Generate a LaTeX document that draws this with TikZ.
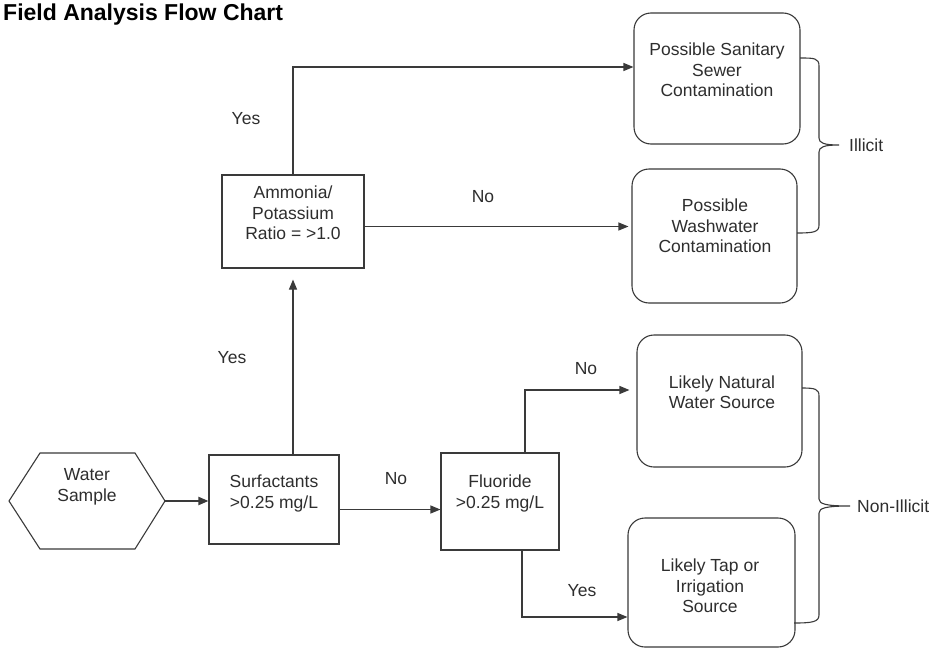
\documentclass[tikz,border=0pt]{standalone}
\usepackage{fontspec}
\setmainfont{Liberation Sans}
\usetikzlibrary{arrows.meta}
\definecolor{ln}{HTML}{3A3A3A}
\begin{document}
\begin{tikzpicture}[x=1pt,y=-1pt,
  flowbox/.style={draw=ln, line width=1.1pt, inner sep=0pt},
  endbox/.style={flowbox, rounded corners=17pt},
  txt/.style={align=center, inner sep=0pt, font=\fontsize{17.5}{20.5}\selectfont, text=black!82},
  arr/.style={draw=ln, line width=1.1pt, -{Triangle[length=10pt,width=8pt]}},
  brace/.style={draw=ln, line width=1.1pt}]
\fill[white] (0,0) rectangle (937,648);
\useasboundingbox (0,0) rectangle (937,648);

\node[anchor=base west, inner sep=0pt, font=\fontsize{23}{27}\selectfont\bfseries] (title) at (3,20) {Field Analysis Flow Chart};

% hexagon
\draw[flowbox] (9,501) -- (40,453) -- (135,453) -- (165,501) -- (135,549) -- (40,549) -- cycle;
\coordinate (hexR) at (165,501);
\node[txt] (water) at (87,487) {Water\\Sample};

% boxes
\node[flowbox, minimum width=130pt, minimum height=89pt] (surf) at (274,499.5) {};
\node[txt] (surft) at (274,493.5) {Surfactants\\>0.25 mg/L};
\node[flowbox, minimum width=142pt, minimum height=93pt] (amm) at (293,221.5) {};
\node[txt] (ammt) at (293,213) {Ammonia/\\Potassium\\Ratio = >1.0};
\node[flowbox, minimum width=118pt, minimum height=97pt] (flu) at (500,501.5) {};
\node[txt] (flut) at (500,493.5) {Fluoride\\>0.25 mg/L};

\node[endbox, minimum width=166pt, minimum height=131pt] (san) at (717,78.5) {};
\node[txt] (sant) at (717,70) {Possible Sanitary\\Sewer\\Contamination};
\node[endbox, minimum width=165pt, minimum height=134pt] (wash) at (714.5,236) {};
\node[txt] (washt) at (715,226) {Possible\\Washwater\\Contamination};
\node[endbox, minimum width=165pt, minimum height=132pt] (nat) at (719.5,401) {};
\node[txt] (natt) at (722,392) {Likely Natural\\Water Source};
\node[endbox, minimum width=167pt, minimum height=129pt] (tap) at (711.5,582.5) {};
\node[txt] (tapt) at (710,586) {Likely Tap or\\Irrigation\\Source};

% connectors
\draw[arr, line width=2pt] (hexR) -- (hexR -| surf.west);
\draw[arr, shorten >=11pt] (amm.south |- surf.north) -- (amm.south);
\draw[arr] (amm.north) |- ([yshift=11.5pt]san.west);
\draw[arr, shorten >=3pt] ([yshift=-5pt]amm.east) -- ([yshift=-5pt]amm.east -| wash.west);
\draw[arr] ([yshift=-10pt]surf.east) -- ([yshift=-10pt]surf.east -| flu.west);
\draw[arr, shorten >=7pt] ([xshift=25pt]flu.north) |- ([yshift=11pt]nat.west);
\draw[arr] ([xshift=22pt]flu.south) |- ([yshift=-34.5pt]tap.west);

% labels
\node[txt] (l1) at (246,119) {Yes};
\node[txt] (l2) at (483,197) {No};
\node[txt] (l3) at (232,358) {Yes};
\node[txt] (l4) at (396,479) {No};
\node[txt] (l5) at (586,369) {No};
\node[txt] (l6) at (582,591) {Yes};

% braces
\draw[brace] (800,58) .. controls (814,58) and (819,58) .. (819,66) -- (819,138)
  .. controls (819,143) and (824,145) .. (839,145)
  .. controls (824,145) and (819,147) .. (819,152) -- (819,225)
  .. controls (819,232) and (814,233) .. (797,233);
\node[txt, anchor=west] (illicit) at (849,145) {Illicit};

\draw[brace] (802,388) .. controls (815,388) and (819,389) .. (819,396) -- (819,499)
  .. controls (819,504) and (826,506) .. (850,506)
  .. controls (826,506) and (819,508) .. (819,513) -- (819,615)
  .. controls (819,622) and (812,623) .. (794,623);
\node[txt, anchor=west] (nonillicit) at (857,506) {Non-Illicit};
\end{tikzpicture}
\end{document}
